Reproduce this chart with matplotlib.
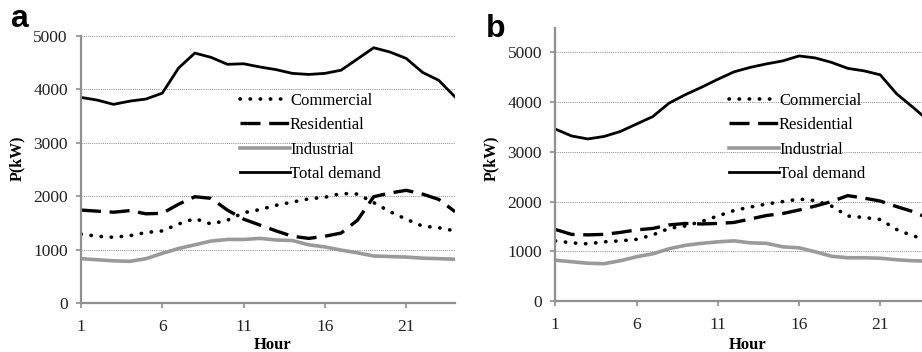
import matplotlib
matplotlib.use("Agg")
import matplotlib.pyplot as plt
import numpy as np

hours = list(range(1, 25))

commercial_a = [1290, 1250, 1230, 1260, 1320, 1350, 1480, 1580, 1480, 1550, 1690, 1750,
                1830, 1890, 1950, 1980, 2050, 2040, 1880, 1710, 1570, 1440, 1410, 1350]
residential_a = [1740, 1720, 1700, 1730, 1670, 1680, 1850, 1990, 1960, 1740, 1570, 1460,
                 1350, 1250, 1210, 1250, 1310, 1550, 1990, 2060, 2110, 2040, 1940, 1710]
industrial_a = [830, 810, 790, 780, 830, 930, 1020, 1090, 1160, 1190, 1190, 1210,
                1180, 1170, 1090, 1050, 990, 940, 880, 870, 860, 840, 830, 820]
total_a = [3850, 3800, 3720, 3780, 3820, 3930, 4400, 4680, 4600, 4470, 4480, 4420,
           4370, 4300, 4280, 4300, 4360, 4570, 4780, 4700, 4580, 4320, 4170, 3860]

commercial_b = [1210, 1170, 1150, 1190, 1210, 1240, 1330, 1460, 1510, 1600, 1710, 1820,
                1890, 1950, 2000, 2050, 2020, 1910, 1710, 1680, 1640, 1440, 1310, 1230]
residential_b = [1440, 1340, 1330, 1340, 1380, 1430, 1460, 1530, 1560, 1550, 1560, 1580,
                 1650, 1720, 1760, 1830, 1910, 2000, 2120, 2070, 2010, 1900, 1800, 1660]
industrial_b = [820, 790, 760, 750, 810, 890, 950, 1050, 1120, 1160, 1190, 1210,
                1170, 1160, 1090, 1070, 990, 900, 870, 870, 860, 830, 810, 800]
total_b = [3460, 3320, 3260, 3310, 3410, 3560, 3710, 3980, 4150, 4300, 4460, 4610,
           4700, 4770, 4830, 4930, 4890, 4800, 4680, 4630, 4550, 4170, 3900, 3620]

labels_a = ["Commercial", "Residential", "Industrial", "Total demand"]
labels_b = ["Commercial", "Residential", "Industrial", "Toal demand"]
xticks = [1, 6, 11, 16, 21]
yticks = [0, 1000, 2000, 3000, 4000, 5000]

plt.rcParams['font.family'] = ['Liberation Serif', 'DejaVu Serif']

W, H = 922, 352
fig = plt.figure(figsize=(W / 100, H / 100), dpi=100)
ax_a = fig.add_axes([81 / W, 49 / H, 374 / W, 267 / H])
ax_b = fig.add_axes([555.3 / W, 51 / H, 373.7 / W, 273.4 / H])

GRAY = "#8f8f8f"

def draw(ax, com, res, ind, tot, labels, ylim):
    ax.plot(hours, com, color="black", lw=2.6, linestyle=(0, (0.1, 2.7)),
            dash_capstyle="round", solid_capstyle="round", label=labels[0])
    ax.plot(hours, res, color="black", lw=2.4, linestyle=(0, (6.0, 2.6)), label=labels[1])
    ax.plot(hours, ind, color="#9a9a9a", lw=2.6, label=labels[2])
    ax.plot(hours, tot, color="black", lw=2.0, label=labels[3])
    ax.set_xlim(1, 24)
    ax.set_ylim(*ylim)
    ax.set_xticks(xticks)
    ax.set_yticks(yticks)
    ax.grid(axis="y", linestyle=(0, (1, 1.2)), color="#888888", lw=0.7)
    ax.set_axisbelow(True)
    for s in ["top", "right"]:
        ax.spines[s].set_visible(False)
    for s in ["left", "bottom"]:
        ax.spines[s].set_color(GRAY)
        ax.spines[s].set_linewidth(1.6)
    ax.tick_params(axis="both", colors=GRAY, labelcolor="#222222", labelsize=12.5,
                   length=3.5, width=1.2, direction="out")
    ax.tick_params(axis="x", pad=8)
    ax.tick_params(axis="y", pad=6)
    ax.set_xlabel("Hour", fontsize=12, fontweight="bold")
    ax.set_ylabel("P(kW)", fontsize=11.5, fontweight="bold")
    ax.legend(loc="upper left", frameon=False,
              fontsize=12, handlelength=3.0, handletextpad=0.0,
              labelspacing=0.5, borderpad=0.0, borderaxespad=0.0)

draw(ax_a, commercial_a, residential_a, industrial_a, total_a, labels_a, (0, 5000))
draw(ax_b, commercial_b, residential_b, industrial_b, total_b, labels_b, (0, 5500))

# legend anchors (axes fraction of the top-left corner)
ax_a.get_legend().set_bbox_to_anchor(((240 - 81) / 374, (303 - 93) / 267))
ax_b.get_legend().set_bbox_to_anchor(((729 - 555.3) / 373.7, (301 - 93) / 273.4))

ax_a.xaxis.set_label_coords(0.513, (303 - 337) / 267)
ax_b.xaxis.set_label_coords(0.514, (301 - 337) / 273.4)
ax_a.yaxis.set_label_coords((25 - 81) / 374, (303 - 158) / 267)
ax_b.yaxis.set_label_coords((499 - 555.3) / 373.7, (301 - 158) / 273.4)

fig.text(10 / W, 1 - 27 / H, "a", fontsize=23, fontweight="bold",
         family="Liberation Sans", va="baseline", ha="left")
fig.text(486 / W, 1 - 37 / H, "b", fontsize=23, fontweight="bold",
         family="Liberation Sans", va="baseline", ha="left")

fig.savefig("out.png", dpi=100)
